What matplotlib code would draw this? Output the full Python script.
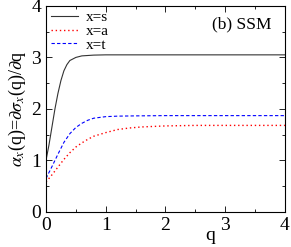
import matplotlib
matplotlib.use("Agg")
import matplotlib.pyplot as plt
from matplotlib.ticker import MultipleLocator

plt.rcParams['font.family'] = ['Liberation Serif', 'DejaVu Serif']
plt.rcParams['mathtext.fontset'] = 'stix'

q_s = [0, 0.05, 0.1, 0.15, 0.2, 0.25, 0.3, 0.35, 0.4, 0.5, 0.6, 0.8, 1.0, 1.5, 2.0, 4.0]
alpha_s = [1.0, 1.3, 1.65, 2.0, 2.3, 2.55, 2.74, 2.86, 2.94, 3.0, 3.03, 3.045, 3.05, 3.05, 3.05, 3.05]

q_a = [0, 0.1, 0.2, 0.3, 0.4, 0.5, 0.6, 0.7, 0.8, 1.0, 1.2, 1.4, 1.6, 2.0, 2.5, 4.0]
alpha_a = [0.58, 0.72, 0.87, 1.02, 1.15, 1.26, 1.34, 1.41, 1.47, 1.54, 1.6, 1.63, 1.65, 1.67, 1.68, 1.68]

q_t = [0, 0.1, 0.2, 0.3, 0.4, 0.5, 0.6, 0.7, 0.8, 1.0, 1.2, 1.5, 2.0, 4.0]
alpha_t = [0.65, 0.88, 1.12, 1.35, 1.52, 1.64, 1.72, 1.78, 1.82, 1.85, 1.86, 1.865, 1.87, 1.87]

fig = plt.figure(figsize=(2.91, 2.47), dpi=100)
ax = fig.add_axes([0.158, 0.142, 0.821, 0.834])

ax.plot(q_s, alpha_s, color='#333333', lw=0.8, label='x=s')
ax.plot(q_a, alpha_a, color='red', lw=1.0, ls=(0, (1, 2)), label='x=a')
ax.plot(q_t, alpha_t, color='blue', lw=0.8, ls=(0, (3, 2)), label='x=t')

ax.set_xlim(0, 4)
ax.set_ylim(0, 4)
ax.xaxis.set_major_locator(MultipleLocator(1))
ax.xaxis.set_minor_locator(MultipleLocator(0.5))
ax.yaxis.set_major_locator(MultipleLocator(1))
ax.yaxis.set_minor_locator(MultipleLocator(0.5))
ax.tick_params(which='both', direction='in', top=True, right=True, labelsize=14, width=0.6)
ax.tick_params(which='major', length=4)
ax.tick_params(which='minor', length=2.5)
for sp in ax.spines.values():
    sp.set_linewidth(0.8)

ax.set_xlabel('q', fontsize=14)
ax.xaxis.set_label_coords(0.686, -0.075)
ax.set_ylabel(r'$\alpha_x$(q)=$\partial\sigma_x$(q)/$\partial$q', fontsize=13, labelpad=2)

ax.text(0.946, 0.908, '(b) SSM', transform=ax.transAxes, ha='right', va='center', fontsize=12.5)
ax.legend(loc='upper left', frameon=False, fontsize=11, handlelength=1.8,
          handletextpad=0.5, labelspacing=0.0, borderaxespad=0.1, borderpad=0.2)

fig.savefig('out.png', dpi=100)
